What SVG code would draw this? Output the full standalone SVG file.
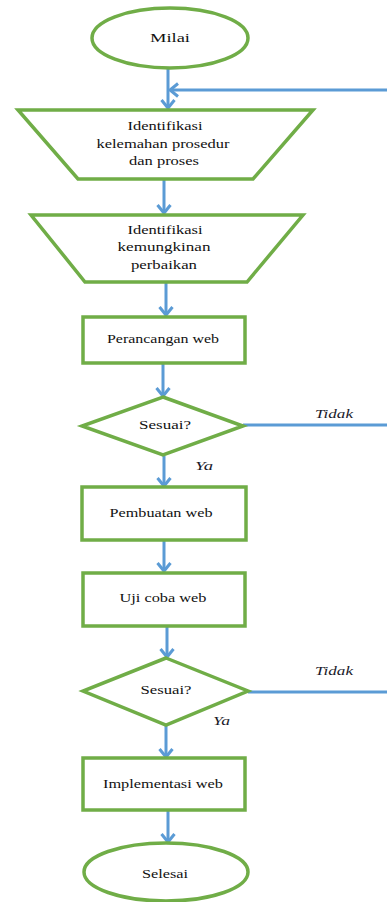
<svg xmlns="http://www.w3.org/2000/svg" width="387" height="902" viewBox="0 0 387 902">
<style>
.n{fill:#fff;stroke:#70AD47;stroke-width:3.5}
.c{fill:none;stroke:#5B9BD5;stroke-width:3}
.t{font-family:'Liberation Serif','DejaVu Serif','Times New Roman',serif;font-size:13px;fill:#111;text-anchor:middle;dominant-baseline:middle}
.i{font-family:'Liberation Serif','DejaVu Serif','Times New Roman',serif;font-size:13px;font-style:italic;fill:#1a1a2a;dominant-baseline:middle}
</style>
<defs>
<marker id="ah" markerUnits="userSpaceOnUse" markerWidth="16" markerHeight="16" refX="13" refY="8" orient="auto">
<path d="M5,1.5 L13,8 L5,14.5" fill="none" stroke="#5B9BD5" stroke-width="3"/>
</marker>
</defs>
<rect width="387" height="902" fill="#fff"/>
<g id="connectors">
<line class="c" x1="168" y1="68" x2="168" y2="108" marker-end="url(#ah)"/>
<line class="c" x1="387" y1="90" x2="170" y2="90" marker-end="url(#ah)"/>
<line class="c" x1="164" y1="180" x2="164" y2="213" marker-end="url(#ah)"/>
<line class="c" x1="166" y1="283" x2="166" y2="315" marker-end="url(#ah)"/>
<line class="c" x1="163" y1="364" x2="163" y2="396" marker-end="url(#ah)"/>
<line class="c" x1="243" y1="425" x2="387" y2="425"/>
<line class="c" x1="164" y1="456" x2="164" y2="486" marker-end="url(#ah)"/>
<line class="c" x1="164" y1="541" x2="164" y2="571" marker-end="url(#ah)"/>
<line class="c" x1="167" y1="627" x2="167" y2="657" marker-end="url(#ah)"/>
<line class="c" x1="248" y1="692" x2="387" y2="692"/>
<line class="c" x1="166" y1="726" x2="166" y2="757" marker-end="url(#ah)"/>
<line class="c" x1="168" y1="811" x2="168" y2="842" marker-end="url(#ah)"/>
<text class="i" x="315" y="415" textLength="38" lengthAdjust="spacingAndGlyphs">Tidak</text>
<text class="i" x="195" y="467" textLength="18" lengthAdjust="spacingAndGlyphs">Ya</text>
<text class="i" x="315" y="672" textLength="38" lengthAdjust="spacingAndGlyphs">Tidak</text>
<text class="i" x="213" y="722" textLength="17" lengthAdjust="spacingAndGlyphs">Ya</text>
</g>
<g id="mulai">
<ellipse class="n" cx="170" cy="38" rx="78" ry="30"/>
<text class="t" x="170" y="39" textLength="40" lengthAdjust="spacingAndGlyphs">Milai</text>
</g>
<g id="identifikasi-kelemahan">
<polygon class="n" points="18,110 313,110 253,179 78,179"/>
<text class="t" x="165" y="127" textLength="75" lengthAdjust="spacingAndGlyphs">Identifikasi</text>
<text class="t" x="163" y="145" textLength="133" lengthAdjust="spacingAndGlyphs">kelemahan prosedur</text>
<text class="t" x="164" y="162" textLength="70" lengthAdjust="spacingAndGlyphs">dan proses</text>
</g>
<g id="identifikasi-kemungkinan">
<polygon class="n" points="31,215 303,215 247,282 85,282"/>
<text class="t" x="165" y="231" textLength="75" lengthAdjust="spacingAndGlyphs">Identifikasi</text>
<text class="t" x="164" y="248" textLength="93" lengthAdjust="spacingAndGlyphs">kemungkinan</text>
<text class="t" x="164" y="266" textLength="66" lengthAdjust="spacingAndGlyphs">perbaikan</text>
</g>
<g id="perancangan">
<rect class="n" x="83" y="317" width="162" height="46"/>
<text class="t" x="163" y="340" textLength="112" lengthAdjust="spacingAndGlyphs">Perancangan web</text>
</g>
<g id="sesuai1">
<polygon class="n" points="163,397 243,426 163,455 82,426"/>
<text class="t" x="165" y="426" textLength="52" lengthAdjust="spacingAndGlyphs">Sesuai?</text>
</g>
<g id="pembuatan">
<rect class="n" x="82" y="487" width="164" height="53"/>
<text class="t" x="161" y="514" textLength="103" lengthAdjust="spacingAndGlyphs">Pembuatan web</text>
</g>
<g id="ujicoba">
<rect class="n" x="83" y="573" width="162" height="53"/>
<text class="t" x="163" y="599" textLength="87" lengthAdjust="spacingAndGlyphs">Uji coba web</text>
</g>
<g id="sesuai2">
<polygon class="n" points="166,658 248,691 166,725 83,691"/>
<text class="t" x="166" y="691" textLength="51" lengthAdjust="spacingAndGlyphs">Sesuai?</text>
</g>
<g id="implementasi">
<rect class="n" x="83" y="758" width="162" height="52"/>
<text class="t" x="163" y="785" textLength="120" lengthAdjust="spacingAndGlyphs">Implementasi web</text>
</g>
<g id="selesai">
<ellipse class="n" cx="166" cy="872" rx="82" ry="29"/>
<text class="t" x="165" y="875" textLength="46" lengthAdjust="spacingAndGlyphs">Selesai</text>
</g>
</svg>
